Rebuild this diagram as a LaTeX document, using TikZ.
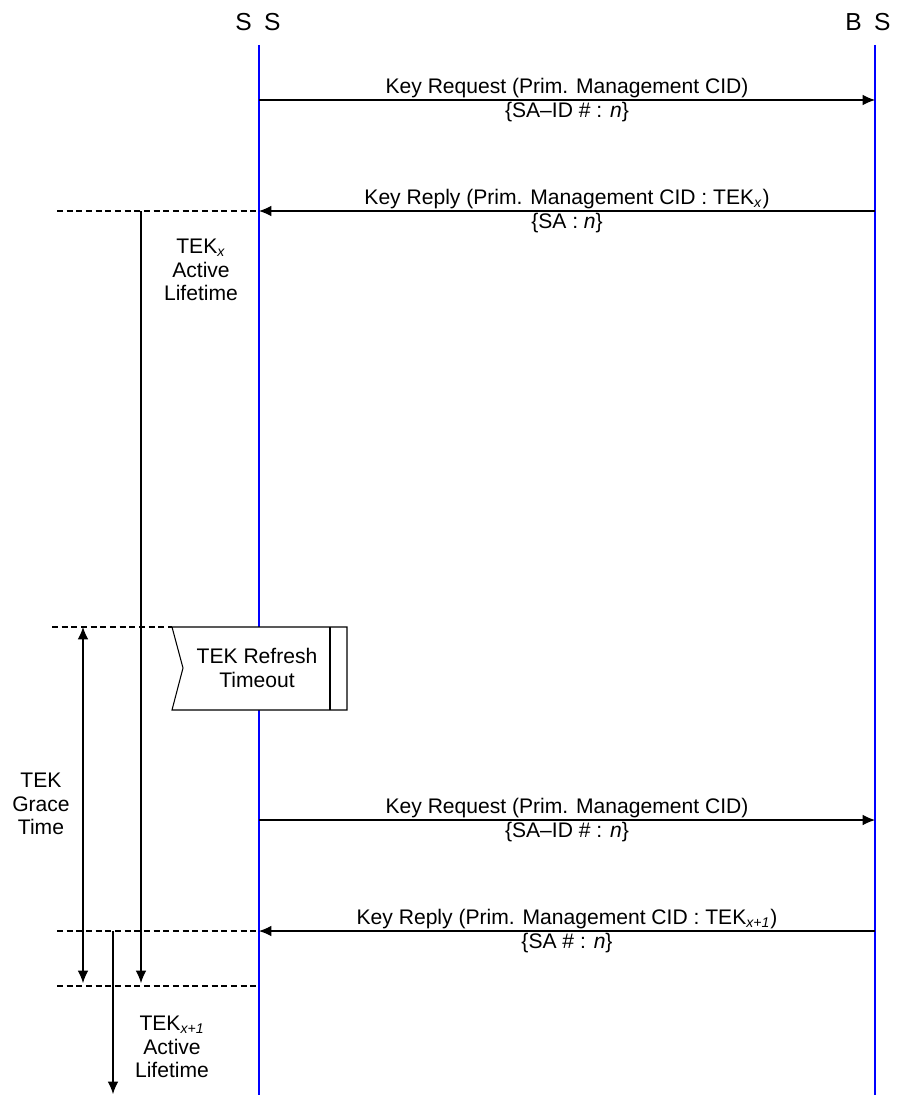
\documentclass[tikz,border=0pt]{standalone}
\usepackage{fontspec}
\setmainfont{Liberation Sans}
\usetikzlibrary{arrows.meta}
\begin{document}
\begin{tikzpicture}[x=0.02cm,y=-0.02cm,
  every node/.style={font=\fontsize{12}{13.5}\selectfont},
  head/.style={font=\fontsize{14}{16}\selectfont},
  life/.style={blue,line width=1.2pt},
  msg/.style={line width=0.6pt,-{Latex[length=7pt,width=6pt]}},
  span/.style={line width=0.6pt,-{Latex[length=7pt,width=6pt]}},
  guide/.style={line width=0.6pt,dash pattern=on 3.5pt off 2pt},
  lbl/.style={align=center}]
\useasboundingbox (0,0) rectangle (900,1095);

\node[head] (ss) at (258,22) {S\enspace S};
\node[head] (bs) at (868,22) {B\enspace S};
\coordinate (ss top) at (259,45);
\coordinate (ss bot) at (259,1095);
\coordinate (bs top) at (875,45);
\coordinate (bs bot) at (875,1095);
\draw[life] (ss top) -- (ss bot);
\draw[life] (bs top) -- (bs bot);

\foreach \y/\n in {100/1,211/2,820/3,931/4} {
  \coordinate (ss\n) at (259,\y);
  \coordinate (bs\n) at (875,\y);
}

\draw[msg] (ss1) -- node[above,inner sep=1pt] {Key Request (Prim. Management CID)}
  node[below,inner sep=1pt] {\{SA\textendash ID \# : \textit{n}\}} (bs1);
\draw[msg] (bs2) -- node[above,inner sep=1pt] {Key Reply (Prim. Management CID : TEK\textsubscript{\textit{x}})}
  node[below,inner sep=1pt] {\{SA : \textit{n}\}} (ss2);
\draw[msg] (ss3) -- node[above,inner sep=1pt] {Key Request (Prim. Management CID)}
  node[below,inner sep=1pt] {\{SA\textendash ID \# : \textit{n}\}} (bs3);
\draw[msg] (bs4) -- node[above,inner sep=1pt] {Key Reply (Prim. Management CID : TEK\textsubscript{\textit{x+1}})}
  node[below,inner sep=1pt] {\{SA \# : \textit{n}\}} (ss4);

\coordinate (g2) at (57,211);
\coordinate (g3) at (52,627);
\coordinate (box) at (172,627);
\coordinate (g4) at (57,931);
\coordinate (g5) at (57,986);
\coordinate (ss5) at (259,986);
\draw[guide] (g2) -- (ss2);
\draw[guide] (g3) -- (box);
\draw[guide] (g4) -- (ss4);
\draw[guide] (g5) -- (ss5);

\coordinate (act x) at (141,211);
\coordinate (end x) at (141,983);
\coordinate (gr top) at (83,627);
\coordinate (gr bot) at (83,983);
\coordinate (act x1) at (113,931);
\coordinate (end x1) at (113,1094);
\draw[span] (act x) -- (end x);
\draw[span,{Latex[length=7pt,width=6pt]}-{Latex[length=7pt,width=6pt]}] (gr top) -- (gr bot);
\draw[span] (act x1) -- (end x1);

\draw[line width=0.6pt,fill=white] (box) -- (347,627) -- (347,710) -- (172,710) -- (183,668) -- cycle;
\draw[line width=0.6pt] (330,627) -- (330,710);
\node[lbl] (refresh) at (257,668) {TEK Refresh\\Timeout};

\node[lbl] (life x) at (201,270) {TEK\textsubscript{\textit{x}}\\Active\\Lifetime};
\node[lbl] (grace) at (41,804) {TEK\\Grace\\Time};
\node[lbl] (life x1) at (172,1047) {TEK\textsubscript{\textit{x+1}}\\Active\\Lifetime};
\end{tikzpicture}
\end{document}
